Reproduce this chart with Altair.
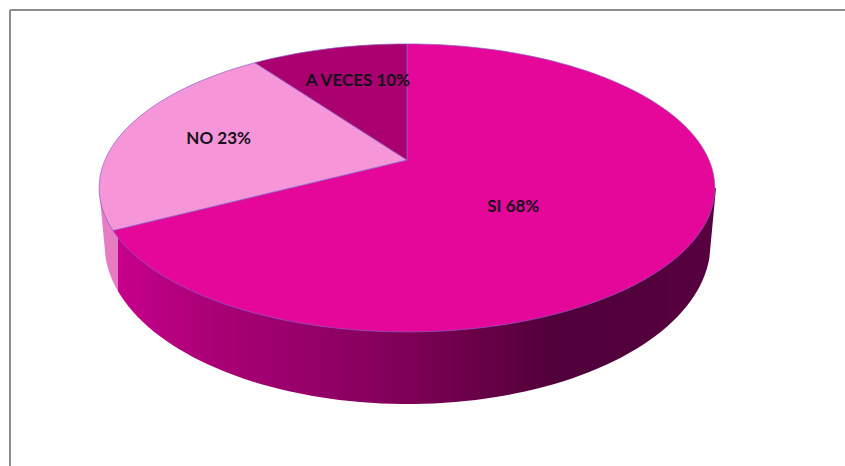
import math
import altair as alt

# Answers and their printed percentages
categories = ["SI", "NO", "A VECES"]
shares = [68, 23, 10]
slice_colors = ["#e5069a", "#f795d9", "#ab006f"]

# Label placement inside each slice: fraction of radius and angular shift in degrees
label_radius = [0.46, 0.66, 0.67]
label_shift = [13, 0, 2]

# Side wall shading, left to right
wall_stop_x = [118, 125, 200, 300, 400, 500, 560, 716]
wall_stop_colors = ["#c8008c", "#c4008a", "#ad0078", "#98006a", "#800058", "#620043", "#50003a", "#58003f"]
wall_sliver_color = "#e77cc3"

W, H = 845, 466
CX, CY = 407.0, 160.0   # apex of the pie on screen
A, B, K = 302.0, 138.6, 0.194  # perspective of the top face
BASE_CX, BASE_CY, BASE_A, BASE_B = 407.5, 244.0, 303.0, 160.0  # outline of the base


def top_point(angle_deg, radius=1.0):
    """Screen position on the tilted top face; angle runs clockwise from 12 o'clock."""
    t = math.radians(angle_deg)
    u, v = radius * math.sin(t), radius * math.cos(t)
    w = 1 + K * v
    return [CX + A * u / w, CY - B * v / w]


# Cumulative slice limits
total = sum(shares)
limits = [0.0]
for s in shares:
    limits.append(limits[-1] + 360.0 * s / total)

# Slices of the top face
slice_features = []
for i, name in enumerate(categories):
    start, end = limits[i], limits[i + 1]
    steps = max(2, int((end - start) / 2))
    rim = [top_point(start + (end - start) * j / steps) for j in range(steps + 1)]
    ring = [[CX, CY]] + rim + [[CX, CY]]
    slice_features.append({
        "type": "Feature",
        "properties": {"name": name},
        "geometry": {"type": "Polygon", "coordinates": [ring]},
    })

# Silhouette of the side wall: the top rim's widest chord plus the base's lower edge
base_edge = []
for deg in range(5, 176, 2):
    phi = math.radians(deg)
    base_edge.append([BASE_CX - BASE_A * math.cos(phi), BASE_CY + BASE_B * math.sin(phi)])
wall_ring = [[99.0, 188.0]] + base_edge + [[716.0, 188.0], [99.0, 188.0]]
wall_feature = {
    "type": "Feature",
    "properties": {"name": "wall"},
    "geometry": {"type": "Polygon", "coordinates": [wall_ring]},
}

# Horizontal gradient over the wall's bounding box, hard step where the SI slice begins
x0, x1 = 99.0, 716.0


def offset(x):
    return (x - x0) / (x1 - x0)


stops = [alt.GradientStop(color=wall_sliver_color, offset=0)]
stops.append(alt.GradientStop(color=wall_sliver_color, offset=offset(wall_stop_x[0])))
for x, c in zip(wall_stop_x, wall_stop_colors):
    stops.append(alt.GradientStop(color=c, offset=min(1.0, offset(x) + 0.0005)))
wall_fill = alt.LinearGradient(gradient="linear", stops=stops, x1=0, x2=1, y1=0, y2=0)

screen = dict(type="identity", scale=1, translate=[0, 0])

wall = alt.Chart(alt.Data(values=[wall_feature])).mark_geoshape(fill=wall_fill).project(**screen)

top = (
    alt.Chart(alt.Data(values=slice_features))
    .mark_geoshape(stroke="#8a5fc4", strokeWidth=0.7)
    .encode(
        color=alt.Color(
            "properties.name:N",
            scale=alt.Scale(domain=categories, range=slice_colors),
            legend=None,
        )
    )
    .project(**screen)
)

# Labels centred inside their slices
label_rows = []
for i, name in enumerate(categories):
    mid = (limits[i] + limits[i + 1]) / 2 + label_shift[i]
    px, py = top_point(mid, label_radius[i])
    label_rows.append({"text": f"{name} {shares[i]}%", "px": px, "py": py})

labels = (
    alt.Chart(alt.Data(values=label_rows))
    .mark_text(font="Lato", fontWeight="bold", fontSize=17, color="#15101a", baseline="middle", align="center")
    .encode(
        x=alt.X("px:Q", scale=alt.Scale(domain=[0, W], nice=False, zero=False), axis=None),
        y=alt.Y("py:Q", scale=alt.Scale(domain=[H, 0], nice=False, zero=False), axis=None),
        text="text:N",
    )
)

# Frame around the chart, running off the right and bottom edges
frame_color = "#8c8c8c"
frame_left = alt.Chart(alt.Data(values=[{"k": 0}])).mark_rule(color=frame_color, strokeWidth=2).encode(
    x=alt.value(10), y=alt.value(10), y2=alt.value(H)
)
frame_top = alt.Chart(alt.Data(values=[{"k": 0}])).mark_rule(color=frame_color, strokeWidth=2).encode(
    y=alt.value(10), x=alt.value(10), x2=alt.value(W)
)

chart = (
    alt.layer(frame_left, frame_top, wall, top, labels)
    .properties(width=W, height=H, padding=0, background="white", autosize=alt.AutoSizeParams(type="none"))
    .configure_view(stroke=None)
)

chart.save("out.html", embed_options={"renderer": "svg", "actions": False})
